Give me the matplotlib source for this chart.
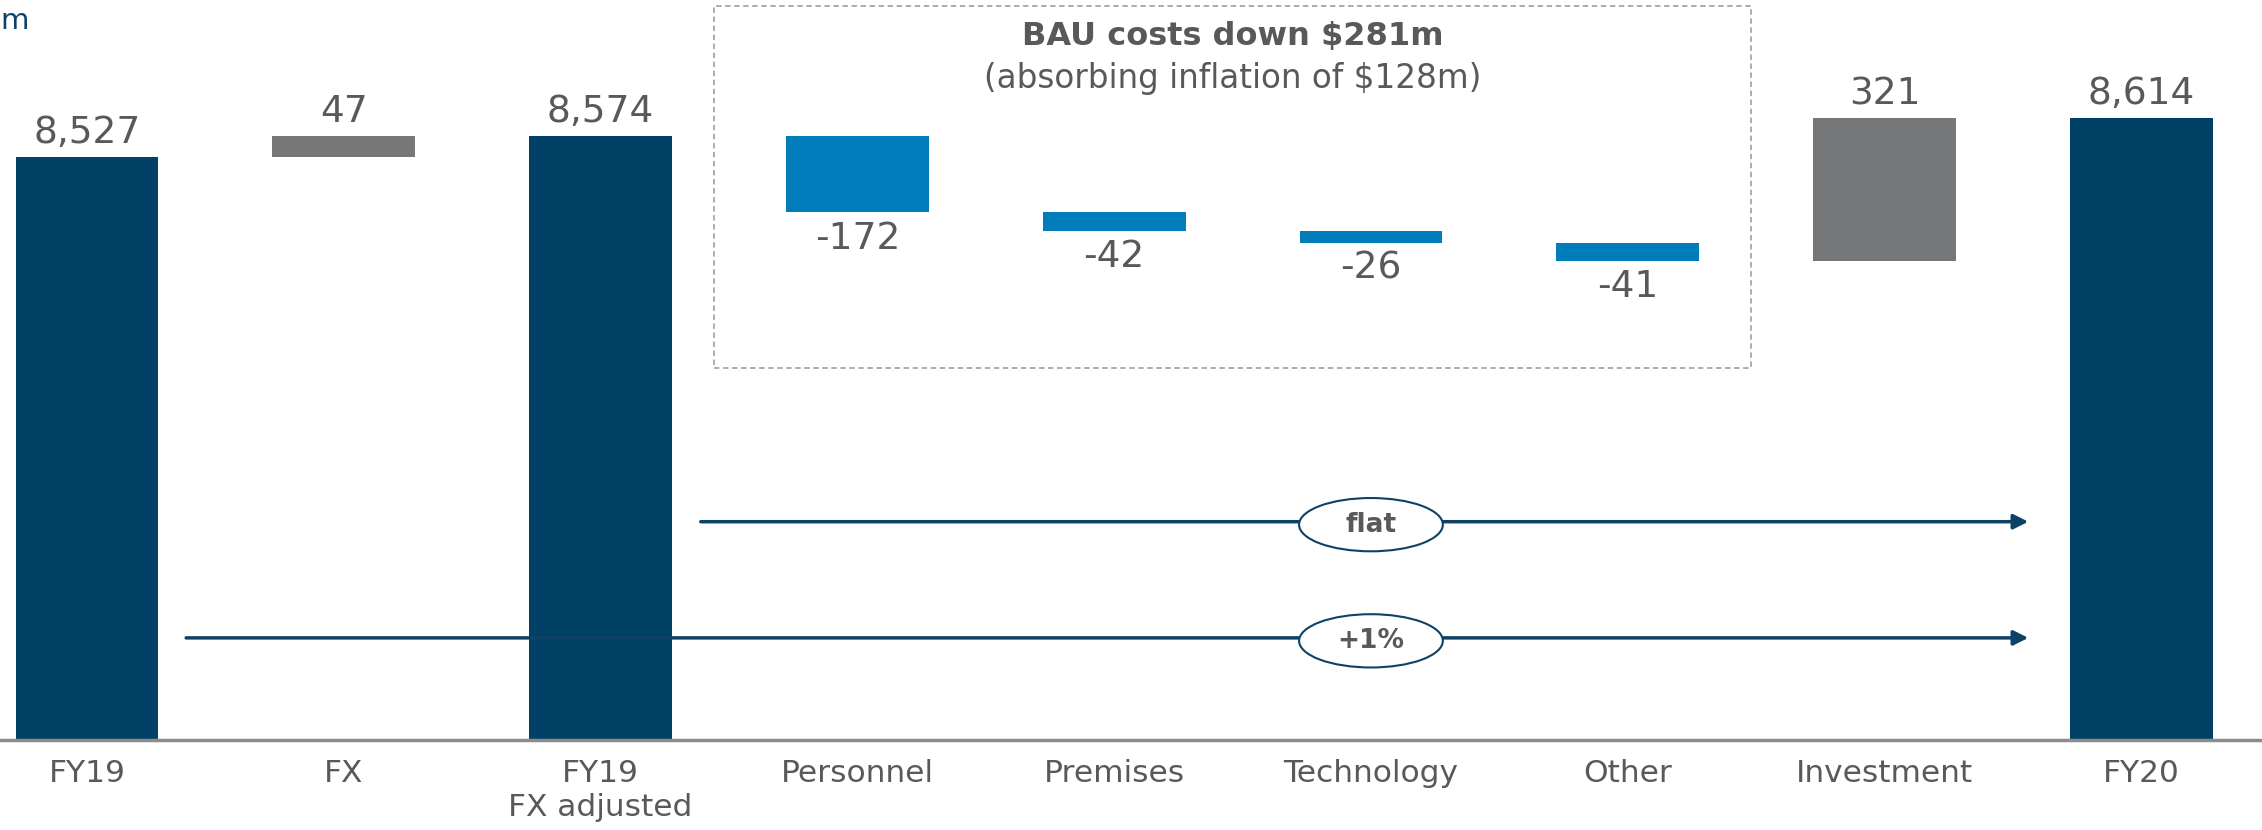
import matplotlib
matplotlib.use('Agg')
import matplotlib.pyplot as plt
import matplotlib.transforms as mtransforms
from matplotlib.patches import Ellipse, Rectangle

categories = ['FY19', 'FX', 'FY19\nFX adjusted', 'Personnel', 'Premises',
              'Technology', 'Other', 'Investment', 'FY20']
values = [8527, 47, 8574, -172, -42, -26, -41, 321, 8614]
is_total = [True, False, True, False, False, False, False, False, True]
bar_colors = ['#004165', '#767779', '#004165', '#007dba', '#007dba',
              '#007dba', '#007dba', '#767779', '#004165']

navy = '#0d4266'
text_grey = '#595959'

plt.rcParams['font.family'] = ['DejaVu Sans']

fig = plt.figure(figsize=(22.62, 8.30), dpi=100)
ax = fig.add_axes([0, 90 / 830, 1, 740 / 830])

# waterfall
running = 0
for i, (v, tot) in enumerate(zip(values, is_total)):
    if tot:
        ax.bar(i, v, width=0.556, color=bar_colors[i], zorder=2)
        running = v
        ax.annotate(f'{v:,}', (i, v), xytext=(0, 4), textcoords='offset points',
                    ha='center', va='bottom', fontsize=27, color=text_grey)
    else:
        ax.bar(i, v, width=0.556, bottom=running, color=bar_colors[i], zorder=2)
        top = running + max(v, 0)
        low = running + min(v, 0)
        running += v
        if v > 0:
            ax.annotate(f'{v:,}', (i, top), xytext=(0, 4), textcoords='offset points',
                        ha='center', va='bottom', fontsize=27, color=text_grey)
        else:
            ax.annotate(f'{v:,}', (i, low), xytext=(0, -6), textcoords='offset points',
                        ha='center', va='top', fontsize=27, color=text_grey)

ax.set_xlim(-0.339, 8.47)
ax.set_ylim(7216, 8879)
ax.set_xticks(range(len(categories)))
ax.set_xticklabels(categories, fontsize=22.5, color=text_grey, linespacing=1.2)
ax.tick_params(axis='x', length=0, pad=14)
ax.set_yticks([])
for s in ['top', 'left', 'right']:
    ax.spines[s].set_visible(False)
ax.spines['bottom'].set_color('#8c8c8c')
ax.spines['bottom'].set_linewidth(2.5)

trans = mtransforms.blended_transform_factory(ax.transData, ax.transAxes)

# dashed box around BAU costs
ax.add_patch(Rectangle((2.44, 0.503), 4.04, 0.489, transform=trans, fill=False,
                       ls=(0, (3, 2)), lw=1.3, edgecolor='#a6a6a6', zorder=1))
ax.text(4.46, 0.95, 'BAU costs down $281m', transform=trans, ha='center', va='center',
        fontsize=23, fontweight='bold', color=text_grey)
ax.text(4.46, 0.894, '(absorbing inflation of $128m)', transform=trans, ha='center',
        va='center', fontsize=23.5, color=text_grey)

# growth arrows
for x0, yf, label in [(2.39, 0.295, 'flat'), (0.386, 0.138, '+1%')]:
    ax.annotate('', xy=(7.56, yf), xytext=(x0, yf), xycoords=trans, textcoords=trans,
                arrowprops=dict(arrowstyle='-|>', color=navy, lw=2.5,
                                mutation_scale=22, shrinkA=0, shrinkB=0), zorder=3)
    ax.add_patch(Ellipse((5.0, yf - 0.004), 0.56, 0.072, transform=trans,
                         facecolor='white', edgecolor=navy, lw=1.5, zorder=4))
    ax.text(5.0, yf - 0.004, label, transform=trans, ha='center', va='center',
            fontsize=19, fontweight='bold', color=text_grey, zorder=5)

fig.text(0.0, 0.992, 'm', ha='left', va='top', fontsize=21, color=navy)

fig.savefig('out.png', dpi=100)
